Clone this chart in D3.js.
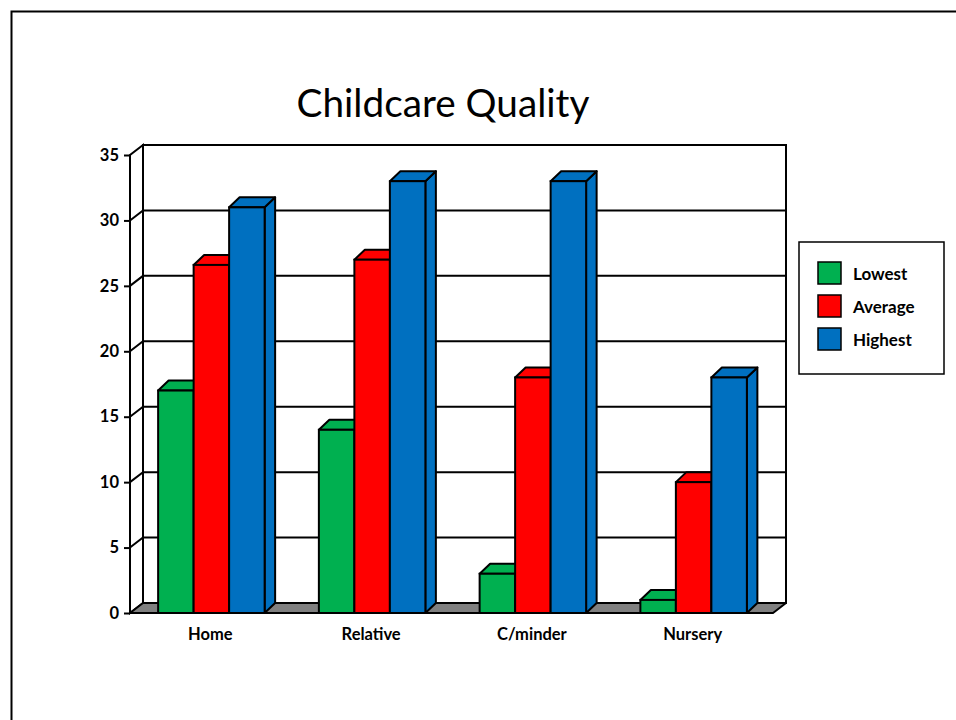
<!DOCTYPE html>
<html>
<head>
<meta charset="utf-8">
<script src="https://cdn.jsdelivr.net/npm/d3@7"></script>
<style>
  html, body { margin: 0; padding: 0; background: #fff; }
  svg { display: block; }
  text { font-family: Lato, "Open Sans", "Liberation Sans", sans-serif; fill: #000; }
</style>
</head>
<body>
<svg id="chart" width="956" height="720"></svg>
<script>
// Chart data
const categories = ["Home", "Relative", "C/minder", "Nursery"];
const seriesNames = ["Lowest", "Average", "Highest"];
const lowest  = [17, 14, 3, 1];
const average = [26.6, 27, 18, 10];
const highest = [31, 33, 33, 18];
const yTicks = [0, 5, 10, 15, 20, 25, 30, 35];
const seriesColors = ["#00B050", "#FF0000", "#0070C0"];
const series = [lowest, average, highest];

(function draw() {
  const svg = d3.select("#chart");

  // Slide frame
  svg.append("rect")
    .attr("x", 11.5).attr("y", 11.5)
    .attr("width", 1000).attr("height", 800)
    .attr("fill", "none").attr("stroke", "#000").attr("stroke-width", 2);

  // Plot geometry (front plane) and depth offsets
  const plotL = 130, plotR = 773, plotB = 613, plotT = 155;
  const wallDx = 13, wallDy = -10;     // depth of the walls / floor
  const barDx = 10.5, barDy = -10;     // depth of each column
  const barW = 35.5;

  const x = d3.scaleBand().domain(categories).range([plotL, plotR]).paddingInner(0).paddingOuter(0);
  const y = d3.scaleLinear().domain([0, 35]).range([plotB, plotT]);

  const g = svg.append("g");
  const ink = "#000";

  // Back wall
  g.append("rect")
    .attr("x", plotL + wallDx).attr("y", y(35) + wallDy)
    .attr("width", plotR - plotL).attr("height", y(0) - y(35))
    .attr("fill", "#fff").attr("stroke", ink).attr("stroke-width", 2);

  // Side wall
  g.append("path")
    .attr("d", `M${plotL},${y(0)} L${plotL},${y(35)} L${plotL + wallDx},${y(35) + wallDy} L${plotL + wallDx},${y(0) + wallDy} Z`)
    .attr("fill", "#fff").attr("stroke", ink).attr("stroke-width", 2);

  // Gridlines across side wall and back wall
  yTicks.filter(v => v > 0 && v < 35).forEach(v => {
    g.append("path")
      .attr("d", `M${plotL},${y(v)} L${plotL + wallDx},${y(v) + wallDy} L${plotR + wallDx},${y(v) + wallDy}`)
      .attr("fill", "none").attr("stroke", ink).attr("stroke-width", 2);
  });

  // Floor
  g.append("path")
    .attr("d", `M${plotL},${y(0)} L${plotR},${y(0)} L${plotR + wallDx},${y(0) + wallDy} L${plotL + wallDx},${y(0) + wallDy} Z`)
    .attr("fill", "#808080").attr("stroke", ink).attr("stroke-width", 2).attr("stroke-linejoin", "round");

  // Columns
  const groupW = barW * seriesNames.length;
  categories.forEach((c, ci) => {
    const x0 = x(c) + (x.bandwidth() - groupW) / 2 + 1;
    series.forEach((vals, si) => {
      const v = vals[ci];
      const bx = x0 + si * barW;
      const by = y(v);
      const col = seriesColors[si];
      const bar = g.append("g");
      // right side
      bar.append("path")
        .attr("d", `M${bx + barW},${y(0)} L${bx + barW},${by} L${bx + barW + barDx},${by + barDy} L${bx + barW + barDx},${y(0) + barDy} Z`)
        .attr("fill", col).attr("stroke", ink).attr("stroke-width", 2).attr("stroke-linejoin", "round");
      // top
      bar.append("path")
        .attr("d", `M${bx},${by} L${bx + barDx},${by + barDy} L${bx + barW + barDx},${by + barDy} L${bx + barW},${by} Z`)
        .attr("fill", col).attr("stroke", ink).attr("stroke-width", 2).attr("stroke-linejoin", "round");
      // front
      bar.append("rect")
        .attr("x", bx).attr("y", by)
        .attr("width", barW).attr("height", y(0) - by)
        .attr("fill", col).attr("stroke", ink).attr("stroke-width", 2);
    });
  });

  // Value axis
  const yAxis = g.append("g")
    .attr("transform", `translate(${plotL},0)`)
    .call(d3.axisLeft(y).tickValues(yTicks).tickSize(6).tickPadding(5));
  yAxis.select(".domain").remove();
  yAxis.selectAll(".tick line").attr("stroke", ink).attr("stroke-width", 2);
  yAxis.selectAll(".tick text")
    .attr("font-size", 16.5).attr("font-weight", "bold")
    .style("font-family", "Lato, 'Open Sans', sans-serif");
  g.append("line")
    .attr("x1", plotL).attr("x2", plotL).attr("y1", y(0)).attr("y2", y(35))
    .attr("stroke", ink).attr("stroke-width", 2);

  // Category axis
  const xAxis = g.append("g")
    .attr("transform", `translate(0,${plotB})`)
    .call(d3.axisBottom(x).tickSize(0).tickPadding(15));
  xAxis.select(".domain").remove();
  xAxis.selectAll(".tick text")
    .attr("font-size", 16.5).attr("font-weight", "bold")
    .style("font-family", "Lato, 'Open Sans', sans-serif");

  // Title
  const title = svg.append("text")
    .attr("x", 443).attr("y", 117)
    .attr("text-anchor", "middle")
    .attr("font-size", 36)
    .text("Childcare Quality");
  const tw = title.node().getComputedTextLength();
  title.attr("font-size", 36 * 293 / tw);

  // Legend
  const legend = svg.append("g");
  legend.append("rect")
    .attr("x", 799).attr("y", 242).attr("width", 145).attr("height", 132)
    .attr("fill", "#fff").attr("stroke", ink).attr("stroke-width", 1.5);
  seriesNames.forEach((name, i) => {
    const ly = 262 + i * 33;
    legend.append("rect")
      .attr("x", 818).attr("y", ly).attr("width", 23).attr("height", 22)
      .attr("fill", seriesColors[i]).attr("stroke", ink).attr("stroke-width", 1.5);
    legend.append("text")
      .attr("x", 853).attr("y", ly + 12).attr("dy", "0.35em")
      .attr("font-size", 17).attr("font-weight", "bold")
      .text(name);
  });
})();
</script>
</body>
</html>
